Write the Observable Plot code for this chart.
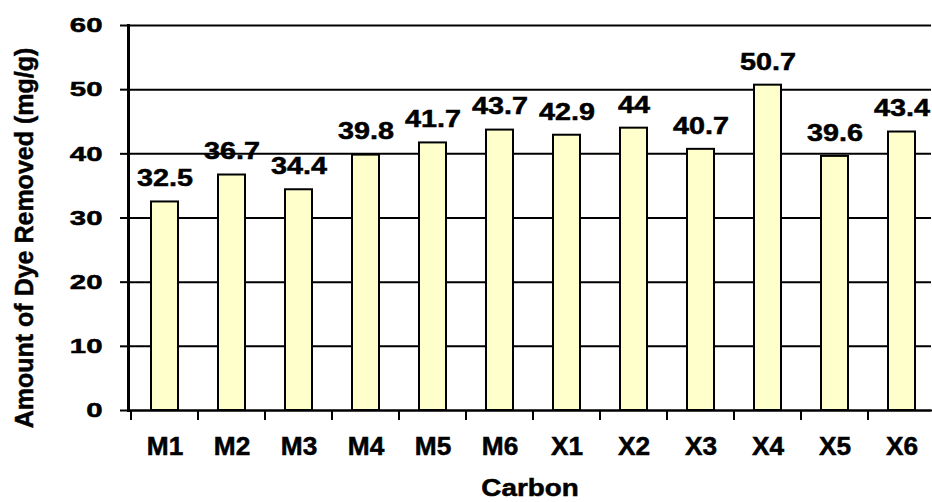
<!DOCTYPE html>
<html>
<head>
<meta charset="utf-8">
<script src="https://cdn.jsdelivr.net/npm/d3@7"></script>
<script src="https://cdn.jsdelivr.net/npm/@observablehq/plot@0.6"></script>
<style>
  html, body { margin: 0; padding: 0; background: #fff; }
  svg { display: block; }
  svg text { stroke: black; stroke-width: 0.5px; }
</style>
</head>
<body>
<div id="chart"></div>
<script>
const categories = ["M1","M2","M3","M4","M5","M6","X1","X2","X3","X4","X5","X6"];
const values = [32.5, 36.7, 34.4, 39.8, 41.7, 43.7, 42.9, 44, 40.7, 50.7, 39.6, 43.4];
const yTicks = [0, 10, 20, 30, 40, 50, 60];
const xTitle = "Carbon";
const yTitle = "Amount of Dye Removed (mg/g)";

const data = categories.map((c, i) => ({carbon: c, value: values[i]}));
const font = "Liberation Sans, Arial, sans-serif";

// Tick marks at category boundaries below the x axis
function boundaryTicks(index, scales, vals, dims) {
  const x = scales.x;
  const step = x.step();
  const gap = (step - x.bandwidth()) / 2;
  const y0 = dims.height - dims.marginBottom;
  const g = d3.create("svg:g");
  const xs = categories.map(c => x(c) - gap);
  xs.push(x(categories[categories.length - 1]) + x.bandwidth() + gap);
  for (const px of xs) {
    g.append("line")
      .attr("x1", px).attr("x2", px)
      .attr("y1", y0).attr("y2", y0 + 10)
      .attr("stroke", "black").attr("stroke-width", 2);
  }
  return g.node();
}

const chart = Plot.plot({
  width: 932,
  height: 502,
  marginLeft: 128,
  marginRight: 1,
  marginTop: 25,
  marginBottom: 92,
  style: {fontFamily: font, fontWeight: "bold", background: "white", color: "black"},
  x: {domain: categories, range: [128, 937], paddingInner: 0.6, paddingOuter: 0.3, label: null},
  y: {domain: [0, 60], label: null},
  marks: [
    Plot.ruleY(yTicks, {stroke: "black", strokeWidth: 2}),
    Plot.barY(data, {x: "carbon", y: "value", fill: "#FFFFCC", stroke: "black", strokeWidth: 2}),
    Plot.text(data, {x: "carbon", y: "value", text: d => String(d.value), dy: -23, fontSize: 23, fontWeight: "bold", fill: "black", className: "vlab"}),
    Plot.axisY({ticks: yTicks, tickSize: 8, tickPadding: 18, fontSize: 21, fontWeight: "bold", strokeWidth: 2, label: null}),
    Plot.axisX({tickSize: 0, tickPadding: 27, fontSize: 25, fontWeight: "bold", label: null}),
    boundaryTicks,
    Plot.frame({anchor: "left", stroke: "black", strokeWidth: 3}),
    Plot.frame({anchor: "bottom", stroke: "black", strokeWidth: 2}),
    Plot.text([xTitle], {frameAnchor: "bottom", dy: 85, fontSize: 24, fontWeight: "bold", fill: "black", className: "xtitle"}),
    Plot.text([yTitle], {frameAnchor: "left", textAnchor: "middle", dx: -104, dy: 20, rotate: -90, fontSize: 25, fontWeight: "bold", fill: "black", className: "ytitle"})
  ]
});
document.getElementById("chart").appendChild(chart);

// Widen the heavy bold glyphs, as in the reference's lettering
function widen(selector, sx) {
  chart.querySelectorAll(selector).forEach(el => {
    const b = el.getBBox();
    const anchor = getComputedStyle(el).textAnchor;
    const cx = anchor === "end" ? b.x + b.width : anchor === "start" ? b.x : b.x + b.width / 2;
    const old = el.getAttribute("transform") || "";
    el.setAttribute("transform", `${old} translate(${cx},0) scale(${sx},1) translate(${-cx},0)`);
  });
}
widen('[aria-label="y-axis tick label"] text', 1.4);
widen('[aria-label="x-axis tick label"] text', 1.05);
widen('.vlab text', 1.25);
widen('.xtitle text', 1.16);
</script>
</body>
</html>
